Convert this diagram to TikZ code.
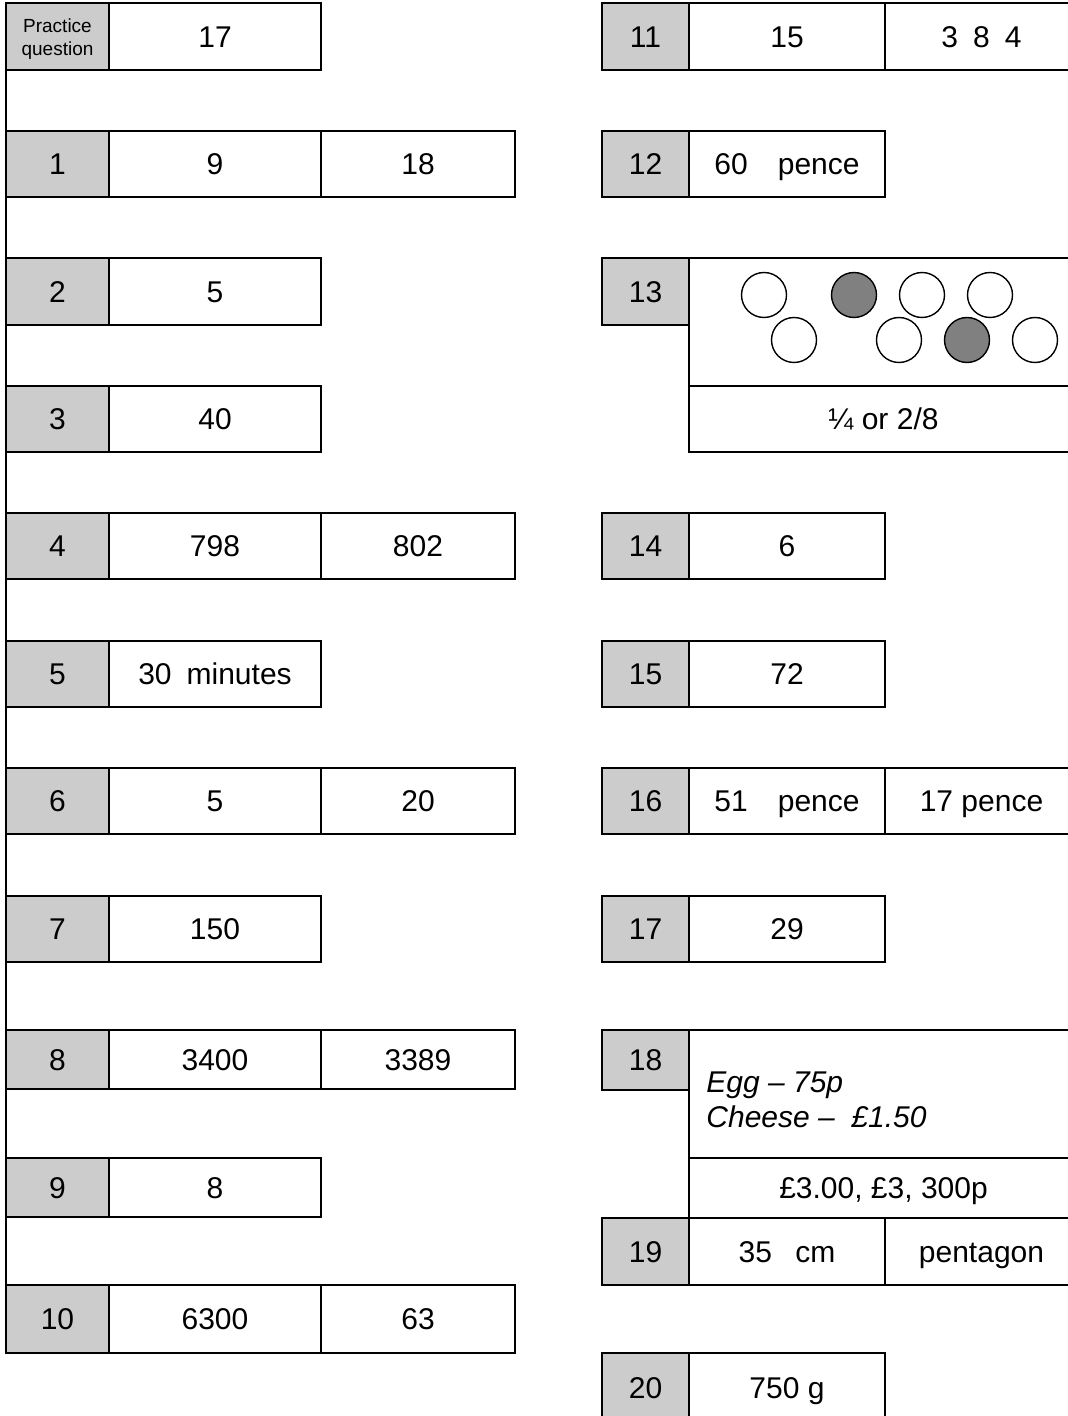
\documentclass[tikz,border=0pt]{standalone}
\usepackage{fontspec}
\setmainfont{Liberation Sans}
\definecolor{cellgrey}{HTML}{CCCCCC}
\definecolor{dotgrey}{HTML}{808080}

\begin{document}
\begin{tikzpicture}[x=0.5pt,y=-0.5pt,
	cell/.style={draw,line width=1pt,inner sep=0pt,outer sep=0pt,minimum height=33.5pt,text height=10.8pt,text depth=0pt,font=\fontsize{15}{18}\selectfont},
	qcell/.style={cell,fill=cellgrey},
	lone/.style={cell,minimum width=51.5pt},
	ltwo/.style={cell,minimum width=106pt},
	lthree/.style={cell,minimum width=97pt},
	rone/.style={qcell,minimum width=43.5pt},
	rtwo/.style={cell,minimum width=98pt},
	rthree/.style={cell,minimum width=96.5pt},
	rwide/.style={cell,minimum width=194.5pt},
	dot/.style={circle,draw,line width=0.7pt,minimum size=22.5pt,inner sep=0pt,fill=white}]
	\useasboundingbox (0,0) rectangle (1068,1416);
	% left column
	\node[lone,qcell] (q0) at (57.5,36.5) {};
	\node[align=center,inner sep=0pt,font=\fontsize{9.5}{11.5}\selectfont] (q0t) at (57.5,39) {Practice\\question};
	\node[ltwo] (a0) at (215,36.5) {17};
	\node[lone,qcell,minimum height=33pt] (q1) at (57.5,164) {1};
	\node[ltwo,minimum height=33pt] (a1) at (215,164) {9};
	\node[lthree,minimum height=33pt] (b1) at (418,164) {18};
	\node[lone,qcell] (q2) at (57.5,291.5) {2};
	\node[ltwo] (a2) at (215,291.5) {5};
	\node[lone,qcell,minimum height=33pt] (q3) at (57.5,419) {3};
	\node[ltwo,minimum height=33pt] (a3) at (215,419) {40};
	\node[lone,qcell,minimum height=33pt] (q4) at (57.5,546) {4};
	\node[ltwo,minimum height=33pt] (a4) at (215,546) {798};
	\node[lthree,minimum height=33pt] (b4) at (418,546) {802};
	\node[lone,qcell,minimum height=33pt] (q5) at (57.5,674) {5};
	\node[ltwo,minimum height=33pt] (a5) at (215,674) {30\enspace minutes};
	\node[lone,qcell,minimum height=33pt] (q6) at (57.5,801) {6};
	\node[ltwo,minimum height=33pt] (a6) at (215,801) {5};
	\node[lthree,minimum height=33pt] (b6) at (418,801) {20};
	\node[lone,qcell,minimum height=33pt] (q7) at (57.5,929) {7};
	\node[ltwo,minimum height=33pt] (a7) at (215,929) {150};
	\node[lone,qcell,minimum height=29.5pt] (q8) at (57.5,1059.5) {8};
	\node[ltwo,minimum height=29.5pt] (a8) at (215,1059.5) {3400};
	\node[lthree,minimum height=29.5pt] (b8) at (418,1059.5) {3389};
	\node[lone,qcell,minimum height=29.5pt] (q9) at (57.5,1187.5) {9};
	\node[ltwo,minimum height=29.5pt] (a9) at (215,1187.5) {8};
	\node[lone,qcell,minimum height=34pt] (q10) at (57.5,1319) {10};
	\node[ltwo,minimum height=34pt] (a10) at (215,1319) {6300};
	\node[lthree,minimum height=34pt] (b10) at (418,1319) {63};
	\draw[line width=1pt] (q0.north west) -- (q10.south west);
	% right column
	\node[rone] (q11) at (645.5,36.5) {11};
	\node[rtwo] (a11) at (787,36.5) {15};
	\node[rthree] (b11) at (981.5,36.5) {3\enspace8\enspace4};
	\node[rone,minimum height=33pt] (q12) at (645.5,164) {12};
	\node[rtwo,minimum height=33pt] (a12) at (787,164) {60\quad pence};
	\node[rone] (q13) at (645.5,291.5) {13};
	\node[rwide,minimum height=64pt] (p13) at (883.5,322) {};
	\node[rwide,minimum height=33pt] (a13) at (883.5,419) {¼ or 2/8};
	\node[dot] (c1) at (764,295) {};
	\node[dot,fill=dotgrey] (c2) at (854,295) {};
	\node[dot] (c3) at (922,295) {};
	\node[dot] (c4) at (990,295) {};
	\node[dot] (c5) at (794,340) {};
	\node[dot] (c6) at (899,340) {};
	\node[dot,fill=dotgrey] (c7) at (967,340) {};
	\node[dot] (c8) at (1035,340) {};
	\node[rone,minimum height=33pt] (q14) at (645.5,546) {14};
	\node[rtwo,minimum height=33pt] (a14) at (787,546) {6};
	\node[rone,minimum height=33pt] (q15) at (645.5,674) {15};
	\node[rtwo,minimum height=33pt] (a15) at (787,674) {72};
	\node[rone,minimum height=33pt] (q16) at (645.5,801) {16};
	\node[rtwo,minimum height=33pt] (a16) at (787,801) {51\quad pence};
	\node[rthree,minimum height=33pt] (b16) at (981.5,801) {17 pence};
	\node[rone,minimum height=33pt] (q17) at (645.5,929) {17};
	\node[rtwo,minimum height=33pt] (a17) at (787,929) {29};
	\node[rone,minimum height=30pt] (q18) at (645.5,1060) {18};
	\node[rwide,minimum height=64pt] (p18) at (883.5,1094) {};
	\node[anchor=west,align=left,inner sep=0pt,font=\fontsize{15}{17.5}\selectfont\itshape] (t18) at (706,1100) {Egg -- 75p\\Cheese --\ \ £1.50};
	\node[rwide,minimum height=30pt] (a18) at (883.5,1188) {£3.00, £3, 300p};
	\node[rone] (q19) at (645.5,1251.5) {19};
	\node[rtwo] (a19) at (787,1251.5) {35\enspace\ cm};
	\node[rthree] (b19) at (981.5,1251.5) {pentagon};
	\node[rone,minimum height=35pt] (q20) at (645.5,1388) {20};
	\node[rtwo,minimum height=35pt] (a20) at (787,1388) {750 g};
\end{tikzpicture}
\end{document}
